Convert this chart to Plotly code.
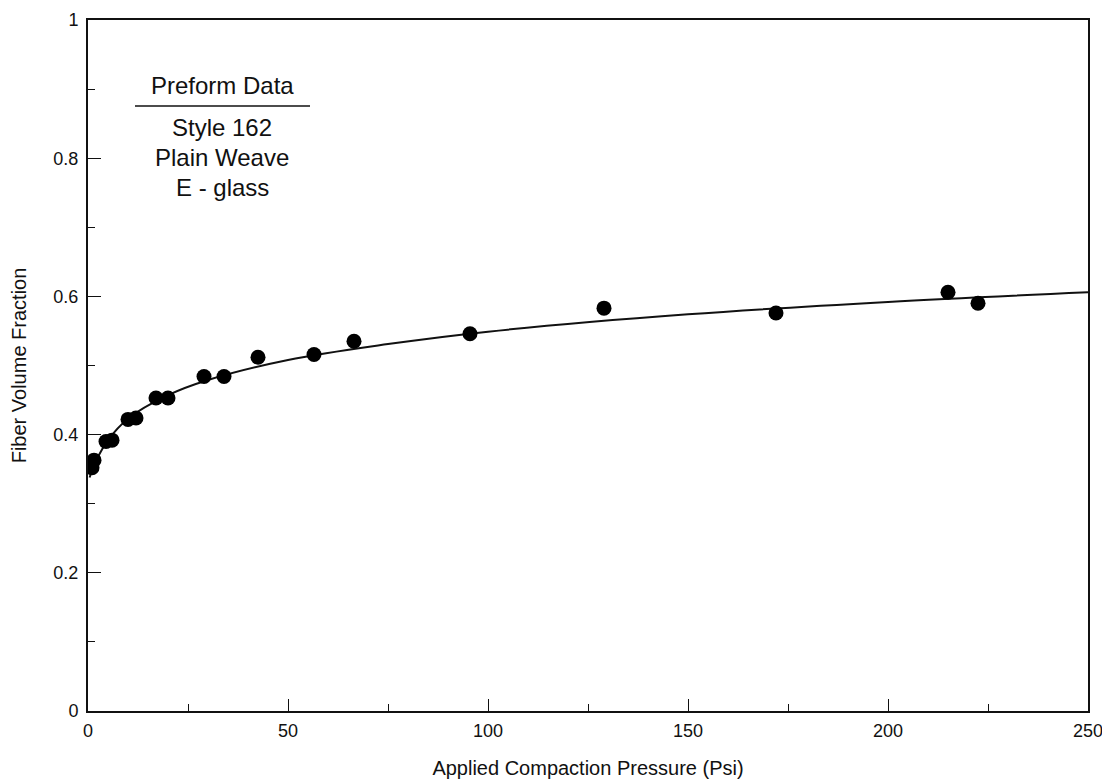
import plotly.graph_objects as go

# Measured data points (pressure in psi, fiber volume fraction)
pressure = [1.0, 1.5, 4.5, 6.0, 10.0, 12.0, 17.0, 20.0, 29.0, 34.0, 42.5, 56.5, 66.5, 95.5, 129.0, 172.0, 215.0, 222.5]
fraction = [0.352, 0.363, 0.390, 0.392, 0.422, 0.424, 0.453, 0.453, 0.484, 0.484, 0.512, 0.516, 0.535, 0.546, 0.583, 0.576, 0.606, 0.590]

# Fitted curve
curve_p = [0.4, 1, 2, 5, 10, 20, 30, 50, 75, 100, 150, 200, 250]
curve_v = [0.338, 0.348, 0.362, 0.392, 0.423, 0.457, 0.479, 0.508, 0.531, 0.549, 0.574, 0.592, 0.606]

x_ticks = [0, 50, 100, 150, 200, 250]
x_labels = ["0", "50", "100", "150", "200", "250"]
y_ticks = [0, 0.2, 0.4, 0.6, 0.8, 1.0]
y_labels = ["0", "0.2", "0.4", "0.6", "0.8", "1"]

legend_title = "Preform Data"
legend_lines = ["Style 162", "Plain Weave", "E - glass"]

FONT = "Liberation Sans, Arial, Helvetica, sans-serif"
INK = "#111111"

fig = go.Figure()
fig.add_trace(go.Scatter(x=curve_p, y=curve_v, mode="lines",
                         line=dict(color=INK, width=2, shape="spline", smoothing=1.0),
                         hoverinfo="skip", showlegend=False))
fig.add_trace(go.Scatter(x=pressure, y=fraction, mode="markers",
                         marker=dict(color="#000000", size=15, line=dict(width=0)),
                         showlegend=False))

fig.update_layout(
    width=1102, height=775,
    margin=dict(l=80, r=22, t=12, b=72, autoexpand=False),
    paper_bgcolor="white", plot_bgcolor="white",
    font=dict(family=FONT, color=INK, size=17),
    showlegend=False,
)
fig.update_xaxes(
    range=[0, 250], showgrid=False, zeroline=False, automargin=False,
    showline=True, linecolor=INK, linewidth=2, mirror=True,
    tickmode="array", tickvals=x_ticks, ticktext=x_labels,
    ticks="inside", ticklen=12, tickcolor=INK, tickwidth=1,
    minor=dict(dtick=25, ticks="inside", ticklen=7, tickcolor=INK, tickwidth=1),
    tickfont=dict(size=18, family=FONT, color=INK),
    ticklabelstandoff=2,
    title=dict(text="Applied Compaction Pressure (Psi)", font=dict(size=20, family=FONT, color=INK), standoff=21),
)
fig.update_yaxes(
    range=[0, 1], showgrid=False, zeroline=False, automargin=False,
    showline=True, linecolor=INK, linewidth=2, mirror=True,
    tickmode="array", tickvals=y_ticks, ticktext=y_labels,
    ticks="inside", ticklen=13, tickcolor=INK, tickwidth=1,
    minor=dict(dtick=0.1, ticks="inside", ticklen=7, tickcolor=INK, tickwidth=1),
    tickfont=dict(size=18, family=FONT, color=INK),
    ticklabelstandoff=4,
    title=dict(text="Fiber Volume Fraction", font=dict(size=20, family=FONT, color=INK), standoff=22),
)

# Legend-like annotation block
fig.add_annotation(xref="paper", yref="paper", x=0.134, y=0.905, text=legend_title,
                   showarrow=False, font=dict(size=24, family=FONT, color=INK), xanchor="center", yanchor="middle")
fig.add_shape(type="line", xref="paper", yref="paper", x0=0.047, x1=0.222, y0=0.8755, y1=0.8755,
              line=dict(color=INK, width=1.5))
for i, t in enumerate(legend_lines):
    fig.add_annotation(xref="paper", yref="paper", x=0.134, y=0.845 - i * 0.0434, text=t,
                       showarrow=False, font=dict(size=24, family=FONT, color=INK), xanchor="center", yanchor="middle")

fig.write_html("out.html")
